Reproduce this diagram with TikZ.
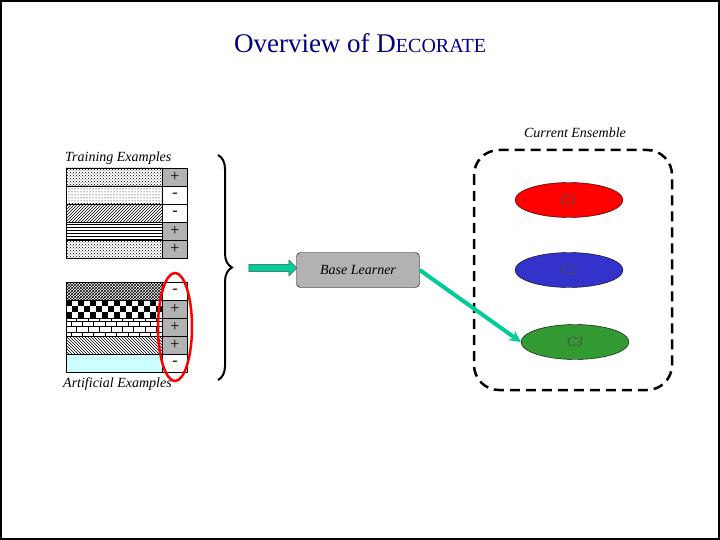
\documentclass[tikz,border=0pt]{standalone}
\usepackage{fontspec}
\setmainfont{Liberation Serif}
\usepackage{tikz}
\usetikzlibrary{patterns,shapes.geometric,shapes.arrows,decorations.pathreplacing,calc}
\definecolor{teal1}{RGB}{0,204,153}
\definecolor{cyan1}{RGB}{204,255,255}
\definecolor{blue1}{RGB}{51,51,204}
\definecolor{green1}{RGB}{51,153,51}
\begin{document}
\begin{tikzpicture}[x=1pt,y=-1pt,
    lbl/.style={font=\fontsize{14}{16}\selectfont\itshape},
    cell/.style={draw=black,thin},
    classcell/.style={draw=black,thin},
    member/.style={ellipse,draw=black,thin,minimum width=108pt,minimum height=35pt,inner sep=0pt,text=black!70,font=\fontsize{14}{16}\selectfont\itshape}]
        \useasboundingbox(0,0)rectangle(720,540);
        \draw[black,line width=1.5pt](1,1)rectangle(719,539);
        % Title
        \node[text=blue!50!black](title)at(360,43){\fontsize{27}{30}\selectfont Overview of D{\fontsize{20}{22}\selectfont ECORATE}};
        % Training examples
        \node[lbl,anchor=south west,inner sep=1pt](train)at(64,166){Training Examples};
        \fill[pattern=crosshatch dots](66,168)rectangle(162,186);
        \fill[pattern=dots](66,186)rectangle(162,204);
        \fill[pattern=north east lines,pattern color=black](66,204)rectangle(162,222);
        \fill[pattern=horizontal lines](66,222)rectangle(162,240);
        \fill[pattern=crosshatch dots](66,240)rectangle(162,258);
        \foreach \i in {0,...,4}{\draw[cell](66,168+18*\i)rectangle(162,186+18*\i);}
        \foreach \s/\c [count=\i from 0] in {+/gray!60,-/white,-/white,+/gray!60,+/gray!60}{
            \draw[classcell,fill=\c](162,168+18*\i)rectangle(187,186+18*\i);
            \node[font=\fontsize{16}{16}\selectfont]at(175,177+18*\i){\s};}
        % Artificial examples
        \fill[pattern=crosshatch](66,282)rectangle(162,300);
        \begin{scope}
            \clip(66,300)rectangle(162,318);
            \foreach \x in {0,...,15}{\foreach \y in {0,1,2}{
                \pgfmathtruncatemacro{\p}{mod(\x+\y,2)}
                \ifnum\p=0 \fill[black](66+6*\x,300+6*\y)rectangle(72+6*\x,306+6*\y);\fi}}
        \end{scope}
        \fill[pattern=bricks](66,318)rectangle(162,336);
        \fill[pattern=north west lines](66,336)rectangle(162,354);
        \fill[cyan1](66,354)rectangle(162,372);
        \foreach \i in {0,...,4}{\draw[cell](66,282+18*\i)rectangle(162,300+18*\i);}
        \foreach \s/\c [count=\i from 0] in {-/white,+/gray!60,+/gray!60,+/gray!60,-/white}{
            \draw[classcell,fill=\c](162,282+18*\i)rectangle(187,300+18*\i);
            \node[font=\fontsize{16}{16}\selectfont]at(175,291+18*\i){\s};}
        \node[lbl,anchor=north west,inner sep=1pt](art)at(62,376){Artificial Examples};
        \draw[red,line width=2.5pt](175,327)ellipse(17 and 54);
        % Brace
        \draw[decorate,decoration={brace,amplitude=14pt},line width=2pt](218,155)--(218,380);
        % Base learner
        \node[draw=black,fill=gray!60,rounded corners=4pt,minimum width=123pt,minimum height=35pt,font=\fontsize{14}{16}\selectfont\itshape](base)at(358,270){Base Learner};
        \node[single arrow,draw=black!70,fill=teal1,minimum height=48pt,minimum width=16pt,single arrow head extend=2pt,inner sep=1.5pt](feed)at(271,268){};
        % Current ensemble
        \node[lbl](ens)at(575,133){Current Ensemble};
        \draw[line width=2.5pt,dash pattern=on 10pt off 6pt,rounded corners=25pt](474,150)rectangle(672,390);
        \node[member,fill=red](c1)at(569,200){C1};
        \node[member,fill=blue1](c2)at(569,270){C2};
        \node[member,fill=green1](c3)at(575,342){C3};
        \draw[->,>=stealth,teal1,line width=4pt](base.east)--(c3.west);
\end{tikzpicture}
\end{document}
